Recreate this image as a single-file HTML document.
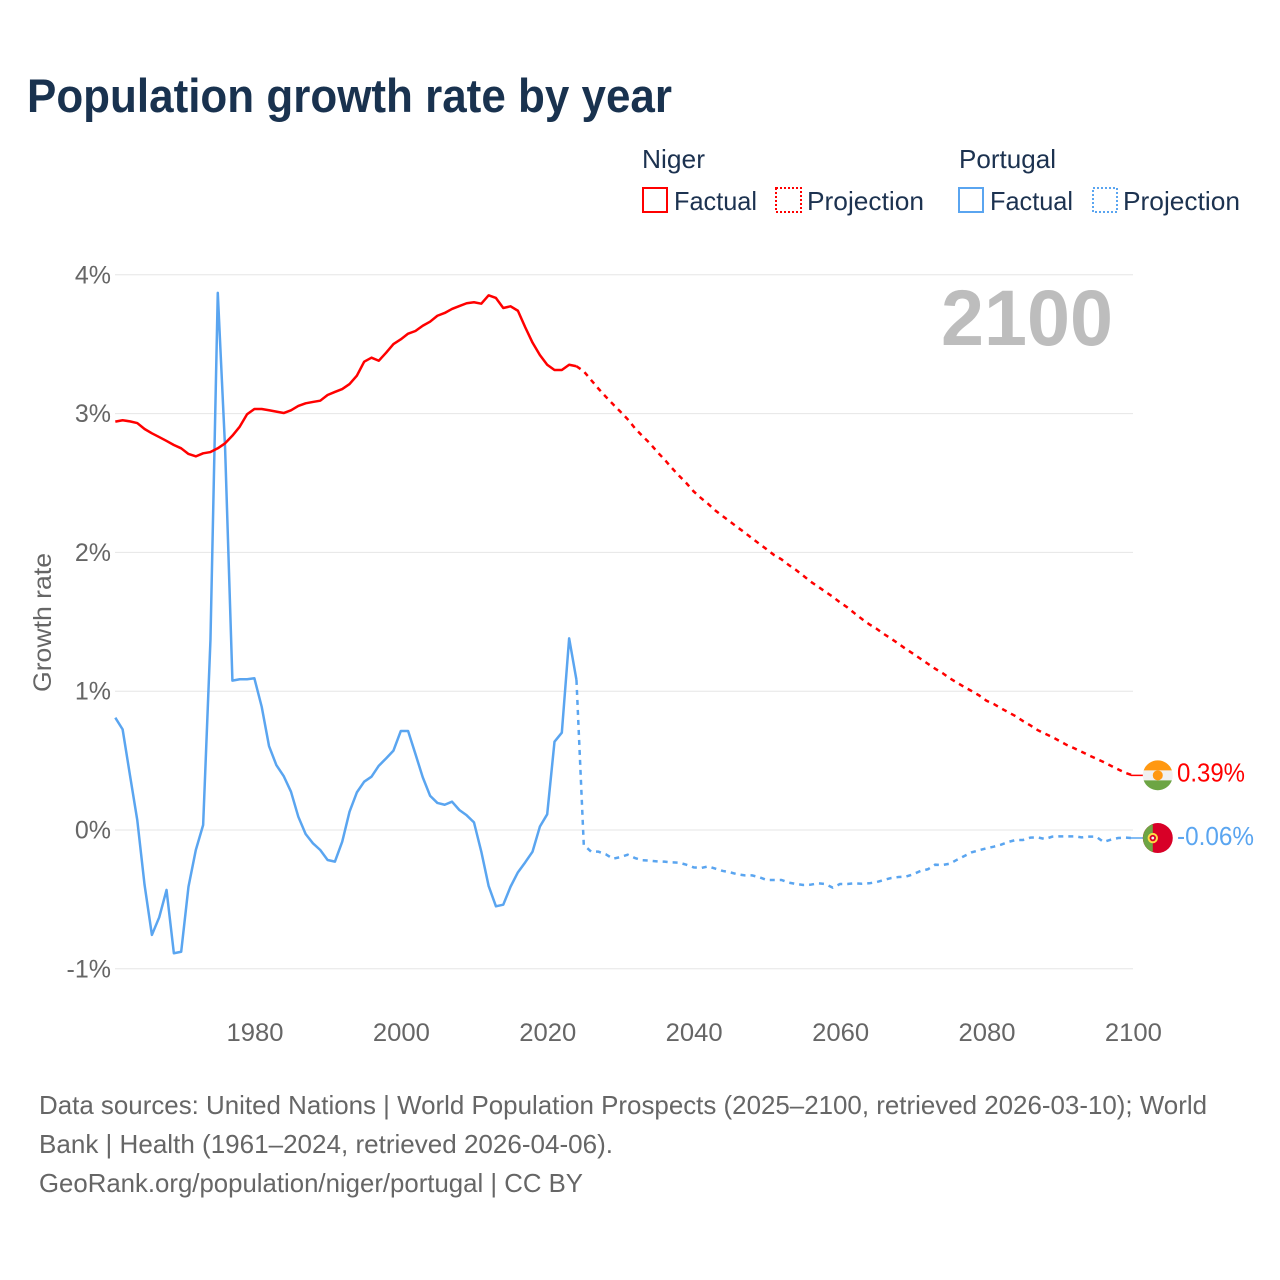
<!DOCTYPE html>
<html lang="en">
<head>
<meta charset="utf-8">
<title>Population growth rate by year</title>
<style>
html,body{margin:0;padding:0;background:#fff;}
svg{display:block;font-family:"Liberation Sans",sans-serif;}
</style>
</head>
<body>
<svg id="chart" width="1280" height="1280" viewBox="0 0 1280 1280" xmlns="http://www.w3.org/2000/svg">
  <rect width="1280" height="1280" fill="#fff"/>
  <text x="27" y="112" font-size="47" font-weight="700" fill="#19324f" textLength="645" lengthAdjust="spacingAndGlyphs">Population growth rate by year</text>

  <g font-size="26" fill="#1c3250">
    <text x="642" y="168" textLength="63" lengthAdjust="spacingAndGlyphs">Niger</text>
    <text x="959" y="168" textLength="97" lengthAdjust="spacingAndGlyphs">Portugal</text>
    <rect x="643" y="188" width="24" height="24" fill="none" stroke="#ff0000" stroke-width="2"/>
    <text x="674" y="210" textLength="83" lengthAdjust="spacingAndGlyphs">Factual</text>
    <rect x="776" y="188" width="25" height="24" fill="none" stroke="#ff0000" stroke-width="2" stroke-dasharray="2 2"/>
    <text x="807" y="210" textLength="117" lengthAdjust="spacingAndGlyphs">Projection</text>
    <rect x="959" y="188" width="24" height="24" fill="none" stroke="#5aa5f0" stroke-width="2"/>
    <text x="990" y="210" textLength="83" lengthAdjust="spacingAndGlyphs">Factual</text>
    <rect x="1093" y="188" width="24" height="24" fill="none" stroke="#5aa5f0" stroke-width="2" stroke-dasharray="2 2"/>
    <text x="1123" y="210" textLength="117" lengthAdjust="spacingAndGlyphs">Projection</text>
  </g>

  <g id="grid"></g>
  <g id="yLabels" font-size="25" fill="#666" text-anchor="end"></g>
  <g id="xLabels" font-size="25" fill="#666" text-anchor="middle"></g>
  <text transform="translate(51 692) rotate(-90)" font-size="25" fill="#666" textLength="139" lengthAdjust="spacingAndGlyphs">Growth rate</text>
  <text x="941" y="345" font-size="79" font-weight="700" fill="#bdbdbd" textLength="172" lengthAdjust="spacingAndGlyphs">2100</text>

  <g id="series"></g>
  <g id="ends"></g>

  <g font-size="26" fill="#666">
    <text x="39" y="1114" textLength="1168" lengthAdjust="spacingAndGlyphs">Data sources: United Nations | World Population Prospects (2025–2100, retrieved 2026-03-10); World</text>
    <text x="39" y="1153" textLength="574" lengthAdjust="spacingAndGlyphs">Bank | Health (1961–2024, retrieved 2026-04-06).</text>
    <text x="39" y="1192" textLength="544" lengthAdjust="spacingAndGlyphs">GeoRank.org/population/niger/portugal | CC BY</text>
  </g>
</svg>
<script>
const firstYear = 1961;
const yTickValues = [-1, 0, 1, 2, 3, 4];
const yTickLabels = ['-1%', '0%', '1%', '2%', '3%', '4%'];
const xTickValues = [1980, 2000, 2020, 2040, 2060, 2080, 2100];
const xTickLabels = ['1980', '2000', '2020', '2040', '2060', '2080', '2100'];

const nigerFactual = [2.942,2.952,2.944,2.932,2.889,2.858,2.831,2.803,2.774,2.75,2.709,2.692,2.714,2.723,2.75,2.786,2.841,2.906,2.995,3.033,3.033,3.024,3.014,3.004,3.024,3.055,3.074,3.084,3.093,3.134,3.156,3.177,3.213,3.273,3.374,3.403,3.381,3.439,3.501,3.535,3.576,3.595,3.633,3.662,3.705,3.725,3.754,3.775,3.795,3.802,3.792,3.852,3.833,3.761,3.773,3.741,3.622,3.511,3.422,3.352,3.314,3.314,3.352,3.341];
const nigerProjection = [3.305,3.242,3.18,3.122,3.067,3.014,2.959,2.894,2.839,2.788,2.726,2.671,2.61,2.553,2.5,2.44,2.392,2.349,2.301,2.26,2.221,2.181,2.142,2.101,2.061,2.022,1.981,1.95,1.909,1.873,1.832,1.789,1.753,1.717,1.681,1.64,1.604,1.561,1.52,1.482,1.45,1.412,1.378,1.342,1.304,1.27,1.234,1.198,1.162,1.131,1.093,1.061,1.03,1.001,0.97,0.932,0.908,0.877,0.848,0.82,0.785,0.754,0.72,0.694,0.67,0.641,0.612,0.589,0.564,0.538,0.514,0.49,0.463,0.437,0.411,0.394];
const portugalFactual = [0.809,0.725,0.396,0.072,-0.396,-0.756,-0.629,-0.432,-0.888,-0.877,-0.408,-0.144,0.036,1.37,3.87,2.75,1.076,1.086,1.086,1.093,0.888,0.605,0.468,0.389,0.276,0.096,-0.029,-0.096,-0.144,-0.216,-0.228,-0.084,0.132,0.271,0.348,0.384,0.463,0.516,0.572,0.713,0.713,0.548,0.38,0.247,0.195,0.182,0.204,0.144,0.106,0.055,-0.156,-0.403,-0.55,-0.538,-0.408,-0.305,-0.233,-0.156,0.024,0.113,0.636,0.701,1.381,1.081];
const portugalProjection = [-0.108,-0.156,-0.156,-0.175,-0.207,-0.195,-0.178,-0.202,-0.218,-0.221,-0.226,-0.228,-0.233,-0.235,-0.25,-0.269,-0.274,-0.262,-0.279,-0.295,-0.305,-0.319,-0.327,-0.327,-0.341,-0.36,-0.36,-0.36,-0.379,-0.389,-0.396,-0.394,-0.384,-0.389,-0.415,-0.389,-0.389,-0.384,-0.387,-0.384,-0.375,-0.36,-0.346,-0.339,-0.336,-0.319,-0.295,-0.283,-0.25,-0.252,-0.243,-0.214,-0.187,-0.161,-0.146,-0.132,-0.12,-0.106,-0.086,-0.072,-0.072,-0.055,-0.053,-0.065,-0.048,-0.046,-0.046,-0.046,-0.053,-0.048,-0.048,-0.086,-0.07,-0.058,-0.055,-0.058];

const NS = 'http://www.w3.org/2000/svg';
function xScale(year) { return 115.3 + (year - firstYear) * 7.32; }
function yScale(value) { return 830 - value * 138.8; }
function make(tag, parentId, attrs) {
  const el = document.createElementNS(NS, tag);
  for (const k in attrs) el.setAttribute(k, attrs[k]);
  document.getElementById(parentId).appendChild(el);
  return el;
}
function pathFrom(values, startYear) {
  return values.map(function (v, i) {
    return (i ? 'L' : 'M') + xScale(startYear + i).toFixed(2) + ' ' + yScale(v).toFixed(2);
  }).join(' ');
}

yTickValues.forEach(function (v, i) {
  const line = make('line', 'grid', {x1: 115, x2: 1133, y1: yScale(v), y2: yScale(v), stroke: '#e6e6e6', 'stroke-width': 1});
  
  
  const label = make('text', 'yLabels', {x: 111, y: yScale(v) + 8.5});
  
  
  label.textContent = yTickLabels[i];
});

xTickValues.forEach(function (v, i) {
  const label = make('text', 'xLabels', {x: xScale(v) + 0.6, y: 1041, textLength: 57, lengthAdjust: 'spacingAndGlyphs'});
  
  
  label.textContent = xTickLabels[i];
});

const RED = '#ff0000';
const BLUE = '#5aa5f0';
const LINE_WIDTH = 2.5;
const lastFactualYear = firstYear + nigerFactual.length - 1;

const pfLine = make('path', 'series', {d: pathFrom(portugalFactual, firstYear), fill: 'none', stroke: BLUE, 'stroke-width': LINE_WIDTH, 'stroke-linejoin': 'round'});



const ppLine = make('path', 'series', {d: pathFrom([portugalFactual[portugalFactual.length - 1]].concat(portugalProjection), lastFactualYear), fill: 'none', stroke: BLUE, 'stroke-width': LINE_WIDTH, 'stroke-dasharray': '5 5'});



const nfLine = make('path', 'series', {d: pathFrom(nigerFactual, firstYear), fill: 'none', stroke: RED, 'stroke-width': LINE_WIDTH, 'stroke-linejoin': 'round'});



const npLine = make('path', 'series', {d: pathFrom([nigerFactual[nigerFactual.length - 1]].concat(nigerProjection), lastFactualYear), fill: 'none', stroke: RED, 'stroke-width': LINE_WIDTH, 'stroke-dasharray': '5 5'});



const lastYear = lastFactualYear + nigerProjection.length;
const endX = xScale(lastYear);
const nigerEnd = nigerProjection[nigerProjection.length - 1];
const portugalEnd = portugalProjection[portugalProjection.length - 1];
const ny = yScale(nigerEnd);
const py = yScale(portugalEnd);
const fx = endX + 25;

const nigerLead = make('line', 'ends', {x1: endX - 2, x2: fx, y1: ny, y2: ny, stroke: RED, 'stroke-width': 1.5});


const portugalLead = make('line', 'ends', {x1: endX - 2, x2: fx, y1: py, y2: py, stroke: BLUE, 'stroke-width': 1.5});



/* Niger flag */
const nigerBase = make('circle', 'ends', {cx: fx, cy: ny, r: 15, fill: '#f0f0f0'});


const nigerTop = make('path', 'ends', {d: 'M' + (fx - 14.1) + ' ' + (ny - 5) + ' A15 15 0 0 1 ' + (fx + 14.1) + ' ' + (ny - 5) + ' Z', fill: '#ff9811'});


const nigerBottom = make('path', 'ends', {d: 'M' + (fx - 14.1) + ' ' + (ny + 5) + ' A15 15 0 0 0 ' + (fx + 14.1) + ' ' + (ny + 5) + ' Z', fill: '#6da544'});


const nigerSun = make('circle', 'ends', {cx: fx, cy: ny, r: 5, fill: '#ff9811'});



/* Portugal flag */
const portugalBase = make('circle', 'ends', {cx: fx, cy: py, r: 15, fill: '#d80027'});


const portugalLeft = make('path', 'ends', {d: 'M' + (fx - 5) + ' ' + (py - 14.1) + ' A15 15 0 0 0 ' + (fx - 5) + ' ' + (py + 14.1) + ' Z', fill: '#6da544'});


const portugalRing = make('circle', 'ends', {cx: fx - 5, cy: py, r: 4.2, fill: '#d80027', stroke: '#ffda44', 'stroke-width': 2});


const portugalShield = make('circle', 'ends', {cx: fx - 5, cy: py, r: 1.4, fill: '#f0f0f0'});



const nigerValue = make('text', 'ends', {x: 1177, y: ny + 6, 'font-size': 26, fill: RED, textLength: 68, lengthAdjust: 'spacingAndGlyphs'});


nigerValue.textContent = nigerEnd.toFixed(2) + '%';

const portugalValue = make('text', 'ends', {x: 1177, y: py + 7, 'font-size': 26, fill: BLUE, textLength: 77, lengthAdjust: 'spacingAndGlyphs'});


portugalValue.textContent = portugalEnd.toFixed(2) + '%';
</script>
</body>
</html>
